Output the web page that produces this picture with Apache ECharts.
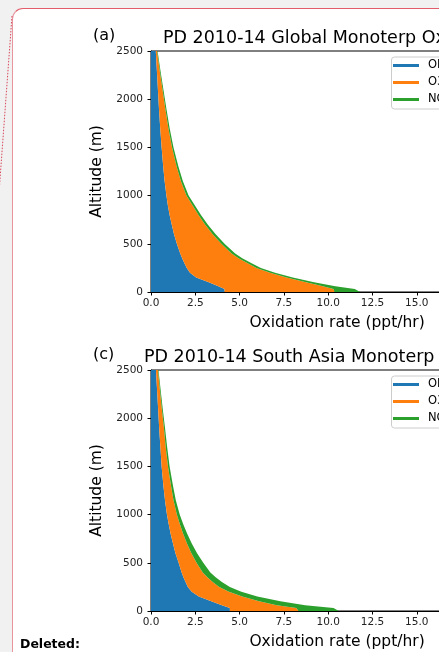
<!DOCTYPE html>
<html><head><meta charset="utf-8">
<script src="https://cdn.jsdelivr.net/npm/echarts@6/dist/echarts.min.js"></script>
<style>
html,body{margin:0;padding:0;width:439px;height:652px;overflow:hidden;background:#f1f1f1;}
#box{position:absolute;left:11.5px;top:7.5px;width:480px;height:700px;border:1px solid #e25d6b;border-left-color:#e8959e;border-radius:11px;background:#fff;}
#chart{position:absolute;left:0;top:0;width:600px;height:652px;}
#del{position:absolute;left:20px;top:636px;font:bold 12.5px "DejaVu Sans";color:#000;}
svg{position:absolute;left:0;top:0}
</style></head><body>
<div id="box"></div>
<svg width="20" height="200"><line x1="12" y1="16" x2="-0.5" y2="186" stroke="#d9475a" stroke-width="1" stroke-dasharray="1.5 1.5"/></svg>
<div id="chart"></div>
<div id="del">Deleted:</div>
<script>
// Altitude levels (m)
const altitude = [0, 30, 60, 100, 150, 200, 250, 300, 350, 400, 500, 600, 700, 800, 900, 1000, 1150, 1300, 1500, 1700, 1900, 2100, 2300, 2500];
// Panel (a) Global: oxidation rates (ppt/hr)
const globalOH  = [4.15, 4.15, 3.80, 3.26, 2.55, 2.20, 2.02, 1.88, 1.76, 1.65, 1.46, 1.30, 1.17, 1.05, 0.95, 0.87, 0.77, 0.69, 0.60, 0.52, 0.45, 0.39, 0.33, 0.27];
const globalO3  = [6.21, 6.15, 5.90, 5.49, 5.10, 4.52, 3.93, 3.55, 3.18, 2.90, 2.51, 2.18, 1.88, 1.63, 1.39, 1.13, 0.92, 0.76, 0.59, 0.46, 0.36, 0.26, 0.16, 0.07];
const globalNO3 = [1.44, 1.20, 0.70, 0.45, 0.35, 0.28, 0.25, 0.22, 0.21, 0.20, 0.18, 0.17, 0.15, 0.14, 0.13, 0.12, 0.11, 0.10, 0.08, 0.07, 0.06, 0.05, 0.04, 0.03];
// Panel (c) South Asia
const asiaOH  = [4.45, 4.45, 4.00, 3.40, 2.70, 2.30, 2.08, 1.95, 1.83, 1.73, 1.56, 1.38, 1.24, 1.11, 1.00, 0.90, 0.79, 0.70, 0.60, 0.53, 0.46, 0.40, 0.34, 0.28];
const asiaO3  = [3.88, 3.75, 3.10, 2.70, 2.45, 2.10, 1.77, 1.53, 1.35, 1.19, 1.01, 0.90, 0.79, 0.71, 0.63, 0.56, 0.48, 0.43, 0.36, 0.30, 0.27, 0.21, 0.16, 0.11];
const asiaNO3 = [2.27, 2.10, 1.60, 1.20, 0.85, 0.70, 0.60, 0.52, 0.47, 0.43, 0.38, 0.32, 0.27, 0.23, 0.19, 0.16, 0.13, 0.11, 0.09, 0.08, 0.06, 0.05, 0.04, 0.03];
// Axis ticks
const xTicks = { min: 0, max: 21, interval: 2.5 };
const yTicks = { min: 0, max: 2500, interval: 500 };
const seriesNames = ['OH', 'O3', 'NO3'];
const panelTitles = ['PD 2010-14 Global Monoterp Oxidation', 'PD 2010-14 South Asia Monoterp Oxidation'];
const panelTags = ['(a)', '(c)'];

const colors = ['#1f77b4', '#ff7f0e', '#2ca02c'];
const FONT = '"DejaVu Sans", sans-serif';

function cumulative(parts) {
  const out = []; let acc = altitude.map(() => 0);
  out.push(acc.slice());
  parts.forEach(p => { acc = acc.map((v, i) => v + p[i]); out.push(acc.slice()); });
  return out;
}

function band(name, color, idx, lower, upper) {
  const data = altitude.map((z, i) => [lower[i], upper[i], z]);
  return {
    type: 'custom', name, coordinateSystem: 'cartesian2d', xAxisIndex: idx, yAxisIndex: idx,
    data, encode: { x: [0, 1], y: 2 }, clip: true, silent: true, itemStyle: { color },
    renderItem(params, api) {
      if (params.dataIndexInside !== 0) return null;
      const n = data.length, pts = [];
      for (let i = 0; i < n; i++) pts.push(api.coord([api.value(1, i), api.value(2, i)]));
      for (let i = n - 1; i >= 0; i--) pts.push(api.coord([api.value(0, i), api.value(2, i)]));
      return { type: 'polygon', shape: { points: pts, smooth: 0 }, style: { fill: color } };
    }
  };
}

const panels = [[globalOH, globalO3, globalNO3], [asiaOH, asiaO3, asiaNO3]];
const tops = [51, 370];
const series = [];
panels.forEach((parts, idx) => {
  const c = cumulative(parts);
  for (let k = 0; k < 3; k++) series.push(band(seriesNames[k], colors[k], idx, c[k], c[k + 1]));
});

const axisCommon = {
  axisLine: { show: true, lineStyle: { color: '#000', width: 1 } },
  axisTick: { show: true, length: 3.5, lineStyle: { color: '#000', width: 1 } },
  splitLine: { show: false },
  axisLabel: { color: '#222', fontSize: 10.5, fontFamily: FONT },
  nameTextStyle: { color: '#000', fontSize: 15.5, fontFamily: FONT }
};

const option = {
  animation: false,
  grid: tops.map(t => ({ left: 151, top: t, width: 21 * 17.72, height: 241, show: true, borderColor: '#000', borderWidth: 1, containLabel: false })),
  xAxis: tops.map((t, i) => Object.assign({}, axisCommon, {
    type: 'value', gridIndex: i, min: xTicks.min, max: xTicks.max, interval: xTicks.interval,
    name: 'Oxidation rate (ppt/hr)', nameLocation: 'middle', nameGap: 23,
    axisLabel: Object.assign({}, axisCommon.axisLabel, { margin: 6, showMaxLabel: false, formatter: v => v.toFixed(1) })
  })),
  yAxis: tops.map((t, i) => Object.assign({}, axisCommon, {
    type: 'value', gridIndex: i, min: yTicks.min, max: yTicks.max, interval: yTicks.interval,
    name: 'Altitude (m)', nameLocation: 'middle', nameGap: 38,
    axisLabel: Object.assign({}, axisCommon.axisLabel, { margin: 8, formatter: v => String(v) })
  })),
  legend: tops.map(t => ({
    orient: 'vertical', left: 391.5, top: t + 6, selectedMode: false,
    data: seriesNames.map((n, k) => ({ name: n, icon: 'rect', itemStyle: { color: colors[k] } })),
    itemWidth: 26, itemHeight: 3, itemGap: 5, padding: [2.5, 30, 3.5, 1.5],
    textStyle: { fontSize: 11.5, color: '#000', fontFamily: FONT, padding: [0, 0, 0, 4] },
    borderColor: '#cccccc', borderWidth: 1, borderRadius: 3, backgroundColor: 'rgba(255,255,255,0.8)'
  })),
  graphic: tops.flatMap((t, i) => [
    { type: 'text', x: 93, y: t - 15, style: { text: panelTags[i], fontSize: 16, fontFamily: FONT, fill: '#000', verticalAlign: 'middle' } },
    { type: 'text', x: 163 - (i === 1 ? 19 : 0), y: t - 13, style: { text: panelTitles[i], fontSize: 17.5, fontFamily: FONT, fill: '#000', verticalAlign: 'middle' } }
  ]),
  series
};
const chart = echarts.init(document.getElementById('chart'), null, { renderer: 'canvas' });
chart.setOption(option);
</script>
</body></html>
